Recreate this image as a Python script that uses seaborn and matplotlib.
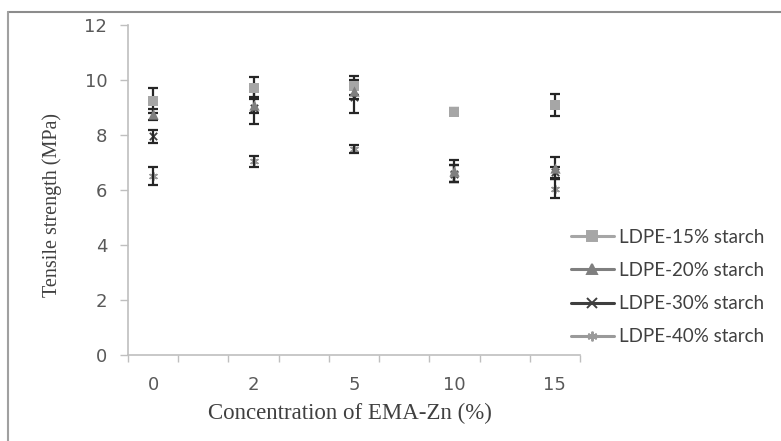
import numpy as np
import pandas as pd
import matplotlib
matplotlib.use("Agg")
import matplotlib.pyplot as plt
from matplotlib.lines import Line2D
import seaborn as sns

# ---- data ----
concentrations = ["0", "2", "5", "10", "15"]
series_names = ["LDPE-15% starch", "LDPE-20% starch", "LDPE-30% starch", "LDPE-40% starch"]
ldpe15 = [9.25, 9.7, 9.8, 8.85, 9.1]
ldpe15_err = [0.45, 0.4, 0.35, 0.12, 0.4]
ldpe20 = [8.75, 9.1, 9.6, 6.7, 6.8]
ldpe20_err = [0.2, 0.3, 0.3, 0.4, 0.4]
ldpe30 = [7.95, 9.0, 9.4, 6.6, 6.65]
ldpe30_err = [0.25, 0.6, 0.6, 0.3, 0.2]
ldpe40 = [6.5, 7.05, 7.5, 6.6, 6.05]
ldpe40_err = [0.32, 0.2, 0.15, 0.3, 0.35]

values = [ldpe15, ldpe20, ldpe30, ldpe40]
errors = [ldpe15_err, ldpe20_err, ldpe30_err, ldpe40_err]
colors = ["#a6a6a6", "#7f7f7f", "#3f3f3f", "#9a9a9a"]
markers = ["s", "^", "x", (6, 2, 0)]

rows = []
for name, vals, errs in zip(series_names, values, errors):
    for i, (v, e) in enumerate(zip(vals, errs)):
        rows.append({"series": name, "pos": i, "conc": concentrations[i], "value": v, "err": e})
df = pd.DataFrame(rows)

sns.set_theme(style="white")
plt.rcParams["font.family"] = ["DejaVu Sans"]

fig = plt.figure(figsize=(7.81, 4.41), dpi=100)
ax = fig.add_axes([128 / 781, 1 - 355 / 441, (580 - 128) / 781, (355 - 25) / 441])

# error bars
for name in series_names:
    d = df[df.series == name]
    ax.errorbar(d["pos"], d["value"], yerr=d["err"], fmt="none", ecolor="#262626",
                elinewidth=1.6, capsize=3.5, capthick=1.6, zorder=2)

for name, col, mk in zip(series_names, colors, markers):
    d = df[df.series == name]
    if mk in ("s", "^"):
        sns.scatterplot(data=d, x="pos", y="value", color=col, marker=mk, s=55,
                        linewidth=0, ax=ax, legend=False, zorder=3)
    else:
        sns.scatterplot(data=d, x="pos", y="value", color=col, marker=mk, s=28,
                        linewidth=1.3, ax=ax, legend=False, zorder=1)

ax.set_xlim(-0.25, 4.25)
ax.set_ylim(0, 12)
ax.set_xticks(range(len(concentrations)))
ax.set_xticklabels(concentrations)
ax.set_xticks(np.arange(-0.25, 4.26, 0.5), minor=True)
ax.set_yticks(range(0, 13, 2))

ax.tick_params(axis="x", which="major", length=0, pad=15, labelsize=13, labelcolor="#595959")
ax.tick_params(axis="x", which="minor", length=5, width=1, color="#bfbfbf", direction="out")
ax.tick_params(axis="y", which="major", length=6, width=1, color="#bfbfbf", direction="out",
               labelsize=13, labelcolor="#595959", pad=9)
ax.tick_params(bottom=True, left=True, which="both")

for side in ["top", "right"]:
    ax.spines[side].set_visible(False)
for side in ["left", "bottom"]:
    ax.spines[side].set_color("#bfbfbf")
    ax.spines[side].set_linewidth(1.2)

ax.set_xlabel("")
ax.set_ylabel("")
fig.text(350 / 781, 1 - 413 / 441, "Concentration of EMA-Zn (%)", family="Liberation Serif",
         fontsize=16.5, color="#404040", ha="center", va="center")
fig.text(52 / 781, 1 - 205 / 441, "Tensile strength (MPa)", family="Liberation Serif",
         fontsize=14.5, color="#404040", ha="center", va="center", rotation=90)

handles = [Line2D([0], [0], color=c, marker=m, markersize=7, linewidth=2.2,
                  markeredgewidth=1.4, markerfacecolor=c, markeredgecolor=c)
           for c, m in zip(colors, markers)]
leg = fig.legend(handles, series_names, loc="center left",
                 bbox_to_anchor=(554 / 781, 1 - 287 / 441), frameon=False,
                 handlelength=2.3, handletextpad=0.27, labelspacing=0.87,
                 prop={"family": "Lato", "size": 13.5})
for t in leg.get_texts():
    t.set_color("#404040")

# figure frame (top and left edge lines)
fig.add_artist(Line2D([8 / 781, 1], [1 - 12 / 441, 1 - 12 / 441], transform=fig.transFigure,
                      color="#8c8c8c", linewidth=1.5))
fig.add_artist(Line2D([8 / 781, 8 / 781], [0, 1 - 12 / 441], transform=fig.transFigure,
                      color="#a0a0a0", linewidth=1.5))

fig.savefig("out.png", dpi=100)
